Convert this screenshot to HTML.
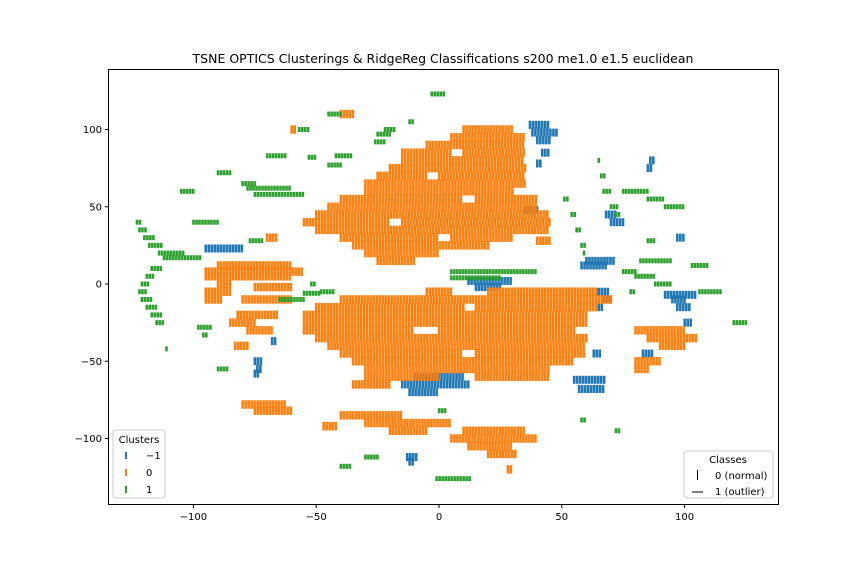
<!DOCTYPE html>
<html><head><meta charset="utf-8"><style>
body{margin:0;background:#fff}
svg text{font-family:"DejaVu Sans","Liberation Sans",sans-serif}
</style></head><body>
<svg id="chart" width="864" height="576">
<rect width="864" height="576" fill="#fff"/>
<text x="443" y="63" text-anchor="middle" font-size="12.5">TSNE OPTICS Clusterings &amp; RidgeReg Classifications s200 me1.0 e1.5 euclidean</text>
<g id="marks"></g>
<rect x="108.5" y="69.5" width="670" height="435" fill="none" stroke="#000" stroke-width="1"/>
<g id="axes"></g>
<g>
<rect x="113" y="430" width="52" height="68" rx="3" fill="#fff" fill-opacity="0.8" stroke="#ccc"/>
<text x="139" y="443" text-anchor="middle" font-size="10">Clusters</text>
<rect x="125" y="452" width="2" height="7" fill="#1f77b4"/><text x="146" y="459" font-size="10">−1</text>
<rect x="125" y="469" width="2" height="7" fill="#ff7f0e"/><text x="146" y="476" font-size="10">0</text>
<rect x="125" y="486" width="2" height="7" fill="#2ca02c"/><text x="146" y="493" font-size="10">1</text>
</g>
<g>
<rect x="684" y="451" width="89" height="47" rx="3" fill="#fff" fill-opacity="0.8" stroke="#ccc"/>
<text x="728" y="463" text-anchor="middle" font-size="10">Classes</text>
<line x1="697.5" y1="470" x2="697.5" y2="480" stroke="#000"/><text x="715" y="479" font-size="10">0 (normal)</text>
<line x1="692" y1="492" x2="703" y2="492" stroke="#000"/><text x="715" y="495" font-size="10">1 (outlier)</text>
</g>
</svg>
<script>
const xTicks=[-100,-50,0,50,100];
const yTicks=[-100,-50,0,50,100];
// spans: [y, xStart, xEnd] in data units
const blueSpans=[[103,37,45],[98,38,48],[93,40,46],[85,42,45],[78,40,42],[80,86,88],[75,85,87],[45,68,72],[40,70,76],[15,60,72],[12,58,68],[-5,65,69],[-10,67,70],[-15,65,67],[-45,63,66],[-62,55,68],[-68,57,67],[-60,-10,10],[-65,-15,12],[-70,-12,0],[2,12,30],[-2,15,25],[23,-95,-80],[-50,-75,-72],[-55,-74,-72],[-58,-75,-73],[-37,-68,-66],[30,97,100],[-10,95,100],[-15,97,103],[-45,83,87],[-25,100,103],[-112,-13,-9],[-115,-12,-10],[48,35,40],[-7,92,105]];
const orangeSpans=[[100,10,30],[95,5,35],[90,-5,35],[85,-15,5],[85,10,35],[80,-15,35],[75,-20,35],[70,-25,-5],[70,0,35],[65,-30,35],[60,-30,30],[55,-40,10],[55,15,40],[50,-45,40],[45,-50,45],[40,-55,-20],[40,-15,45],[35,-50,45],[30,-40,0],[30,5,30],[25,-35,20],[20,-30,0],[15,-25,-10],
[-5,20,65],[-5,-5,5],[-10,-40,70],[-15,-50,10],[-15,15,65],[-20,-55,60],[-25,-55,60],[-30,-55,-10],[-30,0,55],[-35,-50,60],[-40,-45,60],[-45,-40,10],[-45,15,60],[-50,-35,55],[-55,-30,45],[-60,-30,0],[-60,15,45],[-65,-35,-20],
[12,-90,-60],[8,-95,-55],[5,-95,-60],[0,-90,-85],[-5,-95,-85],[-10,-95,-88],[-2,-75,-60],[-10,-80,-60],[-20,-82,-65],[-25,-85,-75],[-30,-78,-68],[-40,-83,-78],[30,-70,-66],[-78,-80,-62],[-82,-75,-60],
[-85,-40,-15],[-90,-30,5],[-95,-20,-5],[-95,10,35],[-100,5,40],[-105,12,30],[-110,20,32],[-120,28,30],[-92,-47,-42],[-30,80,100],[-35,85,105],[-40,90,100],[-50,80,90],[-55,80,85],[28,40,45],[100,-60,-58],[110,-40,-35]];
const greenSpans=[[40,-123,-121],[35,-122,-119],[30,-120,-116],[25,-118,-112],[20,-114,-104],[17,-112,-97],[10,-117,-113],[5,-119,-116],[0,-121,-118],[-5,-122,-119],[-10,-121,-117],[-15,-119,-115],[-20,-117,-113],[-25,-115,-112],
[-28,-98,-92],[-33,-96,-94],[-55,-90,-86],[-42,-111,-110],[60,-105,-100],[40,-100,-90],[72,-90,-85],[65,-80,-75],[62,-78,-60],[58,-75,-55],[83,-70,-62],[100,-57,-53],[82,-53,-50],[77,-45,-40],[83,-42,-35],[97,-25,-20],[100,-22,-18],[105,-12,-10],[123,-3,3],[92,-26,-22],[110,-45,-40],
[8,5,40],[4,5,25],[55,51,53],[45,54,56],[35,56,58],[25,58,60],[20,59,60],[80,65,66],[70,66,68],[60,67,70],[50,70,73],[45,72,74],[60,75,85],[55,85,92],[50,92,100],[8,75,80],[5,80,88],[0,88,95],[28,85,88],[15,82,95],[12,103,110],[-5,106,115],[-25,120,125],[-5,78,80],[0,-52,-50],[-10,-65,-55],[-5,-48,-42],[-82,0,3],[-88,58,60],[-95,72,74],[-112,-30,-25],[-118,-40,-36],[-126,-1,13],[28,-77,-72],[-6,-55,-48]];

const X0=439,XS=2.456,Y0=284,YS=1.545;
const sx=v=>X0+v*XS, sy=v=>Y0-v*YS;
const NS='http://www.w3.org/2000/svg';
const marks=document.getElementById('marks');
function drawSpans(spans,color,name,h){
  const g=document.createElementNS(NS,'g');
  
  
  spans.forEach(s=>{
    const x0=sx(s[1]),x1=sx(s[2]),y=sy(s[0]);
    for(let x=x0;x<=x1+0.1;x+=3){
      const r=document.createElementNS(NS,'rect');
      r.setAttribute('x',x-1.2);r.setAttribute('y',y-h/2);
      r.setAttribute('width',2.6);r.setAttribute('height',h);
      r.setAttribute('fill',color);
      
      
      g.appendChild(r);
    }
  });
  marks.appendChild(g);
}
drawSpans(blueSpans,'#1f77b4','cluster-minus1-points',8);
drawSpans(orangeSpans,'#ff7f0e','cluster-0-points',8.5);
drawSpans(greenSpans,'#2ca02c','cluster-1-points',5);

const axes=document.getElementById('axes');
xTicks.forEach(t=>{
  const x=sx(t);
  const l=document.createElementNS(NS,'line');
  l.setAttribute('x1',x);l.setAttribute('x2',x);l.setAttribute('y1',504.5);l.setAttribute('y2',508);l.setAttribute('stroke','#000');
  
  
  axes.appendChild(l);
  const tx=document.createElementNS(NS,'text');
  tx.setAttribute('x',x);tx.setAttribute('y',520);tx.setAttribute('text-anchor','middle');tx.setAttribute('font-size','10');
  tx.textContent=t<0?'−'+(-t):String(t);
  
  
  axes.appendChild(tx);
});
yTicks.forEach(t=>{
  const y=sy(t);
  const l=document.createElementNS(NS,'line');
  l.setAttribute('x1',105);l.setAttribute('x2',108.5);l.setAttribute('y1',y);l.setAttribute('y2',y);l.setAttribute('stroke','#000');
  
  
  axes.appendChild(l);
  const tx=document.createElementNS(NS,'text');
  tx.setAttribute('x',102);tx.setAttribute('y',y+3.5);tx.setAttribute('text-anchor','end');tx.setAttribute('font-size','10');
  tx.textContent=t<0?'−'+(-t):String(t);
  
  
  axes.appendChild(tx);
});
</script>
</body></html>
